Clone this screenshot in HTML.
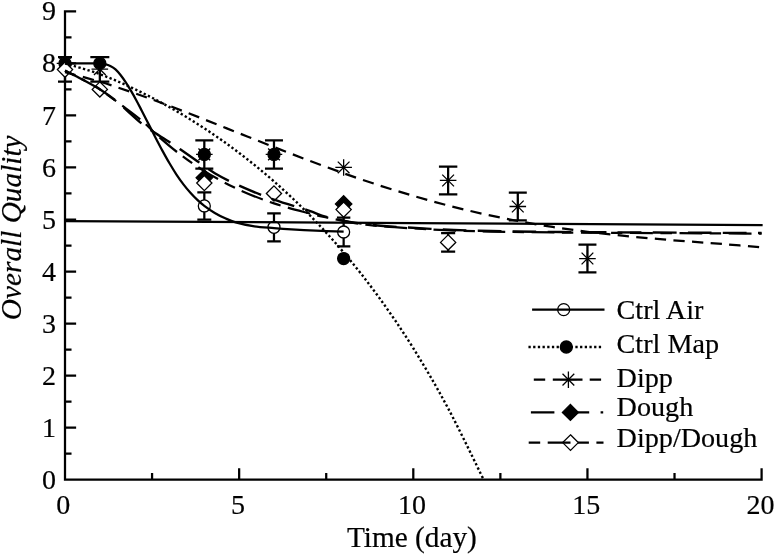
<!DOCTYPE html>
<html><head><meta charset="utf-8"><title>Overall Quality vs Time</title>
<style>
html,body{margin:0;padding:0;background:#fff;}
body{width:774px;height:555px;overflow:hidden;}
svg{display:block;will-change:transform;}
text{font-family:"Liberation Serif",serif;fill:#000;stroke:#000;stroke-width:0.2px;}
</style></head><body>
<svg width="774" height="555" viewBox="0 0 774 555">
<rect x="0" y="0" width="774" height="555" fill="#fff"/>

<path d="M65.00,11.25 V479.70 H761.60 M65.00,479.70 h10.00 M65.00,453.68 h5.40 M65.00,427.66 h10.00 M65.00,401.64 h5.40 M65.00,375.62 h10.00 M65.00,349.60 h5.40 M65.00,323.58 h10.00 M65.00,297.56 h5.40 M65.00,271.54 h10.00 M65.00,245.52 h5.40 M65.00,219.50 h10.00 M65.00,193.48 h5.40 M65.00,167.46 h10.00 M65.00,141.44 h5.40 M65.00,115.42 h10.00 M65.00,89.40 h5.40 M65.00,63.38 h10.00 M65.00,37.36 h5.40 M65.00,11.34 h10.00 M65.00,479.70 v-10.30 M152.07,479.70 v-5.60 M239.15,479.70 v-10.30 M326.22,479.70 v-5.60 M413.30,479.70 v-10.30 M500.38,479.70 v-5.60 M587.45,479.70 v-10.30 M674.52,479.70 v-5.60 M761.60,479.70 v-10.30" fill="none" stroke="#000" stroke-width="2.25" stroke-linecap="square"/>
<path d="M65.00,57.14 V81.59 M58.00,57.14 H72.00 M58.00,81.59 H72.00" fill="none" stroke="#000" stroke-width="2.25"/>
<path d="M99.83,57.14 V81.59 M90.33,57.14 H109.33 M90.33,81.59 H109.33" fill="none" stroke="#000" stroke-width="2.25"/>
<path d="M204.32,140.40 V168.50 M195.32,140.40 H213.32 M195.32,168.50 H213.32" fill="none" stroke="#000" stroke-width="2.25"/>
<path d="M273.98,140.40 V168.50 M264.98,140.40 H282.98 M264.98,168.50 H282.98" fill="none" stroke="#000" stroke-width="2.25"/>
<path d="M204.32,192.44 V219.50 M197.32,192.44 H211.32 M197.32,219.50 H211.32" fill="none" stroke="#000" stroke-width="2.25"/>
<path d="M273.98,213.26 V241.36 M267.18,213.26 H280.78 M267.18,241.36 H280.78" fill="none" stroke="#000" stroke-width="2.25"/>
<path d="M343.64,217.68 V246.30 M336.94,217.68 H350.34 M336.94,246.30 H350.34" fill="none" stroke="#000" stroke-width="2.25"/>
<path d="M448.13,166.68 V194.26 M438.93,166.68 H457.33 M438.93,194.26 H457.33" fill="none" stroke="#000" stroke-width="2.25"/>
<path d="M517.79,192.70 V220.28 M508.79,192.70 H526.79 M508.79,220.28 H526.79" fill="none" stroke="#000" stroke-width="2.25"/>
<path d="M587.45,244.74 V272.32 M578.45,244.74 H596.45 M578.45,272.32 H596.45" fill="none" stroke="#000" stroke-width="2.25"/>
<path d="M448.13,233.19 V251.61 M441.08,233.19 H455.18 M441.08,251.61 H455.18" fill="none" stroke="#000" stroke-width="2.25"/>
<path d="M56.70,63.38 L73.30,63.38 M59.13,57.51 L70.87,69.25 M65.00,55.08 L65.00,71.68 M70.87,57.51 L59.13,69.25" fill="none" stroke="#000" stroke-width="1.3"/>
<path d="M91.53,69.10 L108.13,69.10 M93.96,63.24 L105.70,74.97 M99.83,60.80 L99.83,77.40 M105.70,63.24 L93.96,74.97" fill="none" stroke="#000" stroke-width="1.3"/>
<path d="M196.02,154.45 L212.62,154.45 M198.45,148.58 L210.19,160.32 M204.32,146.15 L204.32,162.75 M210.19,148.58 L198.45,160.32" fill="none" stroke="#000" stroke-width="1.3"/>
<path d="M265.68,154.45 L282.28,154.45 M268.11,148.58 L279.85,160.32 M273.98,146.15 L273.98,162.75 M279.85,148.58 L268.11,160.32" fill="none" stroke="#000" stroke-width="1.3"/>
<path d="M335.34,167.46 L351.94,167.46 M337.77,161.59 L349.51,173.33 M343.64,159.16 L343.64,175.76 M349.51,161.59 L337.77,173.33" fill="none" stroke="#000" stroke-width="1.3"/>
<path d="M439.83,180.47 L456.43,180.47 M442.26,174.60 L454.00,186.34 M448.13,172.17 L448.13,188.77 M454.00,174.60 L442.26,186.34" fill="none" stroke="#000" stroke-width="1.3"/>
<path d="M509.49,206.49 L526.09,206.49 M511.92,200.62 L523.66,212.36 M517.79,198.19 L517.79,214.79 M523.66,200.62 L511.92,212.36" fill="none" stroke="#000" stroke-width="1.3"/>
<path d="M579.15,258.53 L595.75,258.53 M581.58,252.66 L593.32,264.40 M587.45,250.23 L587.45,266.83 M593.32,252.66 L581.58,264.40" fill="none" stroke="#000" stroke-width="1.3"/>
<path d="M204.32,169.67 L212.52,177.87 L204.32,186.07 L196.12,177.87 Z" fill="#000" stroke="#000" stroke-width="1.3"/>
<path d="M343.64,195.69 L351.84,203.89 L343.64,212.09 L335.44,203.89 Z" fill="#000" stroke="#000" stroke-width="1.3"/>
<circle cx="65.00" cy="63.38" r="6.0" fill="#000" stroke="#000" stroke-width="1.3"/>
<circle cx="99.83" cy="63.38" r="6.0" fill="#000" stroke="#000" stroke-width="1.3"/>
<circle cx="204.32" cy="154.45" r="6.0" fill="#000" stroke="#000" stroke-width="1.3"/>
<circle cx="273.98" cy="154.45" r="6.0" fill="#000" stroke="#000" stroke-width="1.3"/>
<circle cx="343.64" cy="258.53" r="6.0" fill="#000" stroke="#000" stroke-width="1.3"/>
<circle cx="204.32" cy="205.97" r="6.0" fill="#fff" stroke="#000" stroke-width="1.3"/>
<circle cx="273.98" cy="227.31" r="6.0" fill="#fff" stroke="#000" stroke-width="1.3"/>
<circle cx="343.64" cy="231.99" r="6.0" fill="#fff" stroke="#000" stroke-width="1.3"/>
<path d="M65.00,62.02 L72.60,69.62 L65.00,77.22 L57.40,69.62 Z" fill="#fff" stroke="#000" stroke-width="1.3"/>
<path d="M99.83,81.80 L107.43,89.40 L99.83,97.00 L92.23,89.40 Z" fill="#fff" stroke="#000" stroke-width="1.3"/>
<path d="M204.32,175.47 L211.92,183.07 L204.32,190.67 L196.72,183.07 Z" fill="#fff" stroke="#000" stroke-width="1.3"/>
<path d="M273.98,185.88 L281.58,193.48 L273.98,201.08 L266.38,193.48 Z" fill="#fff" stroke="#000" stroke-width="1.3"/>
<path d="M343.64,202.01 L351.24,209.61 L343.64,217.21 L336.04,209.61 Z" fill="#fff" stroke="#000" stroke-width="1.3"/>
<path d="M448.13,234.80 L455.73,242.40 L448.13,250.00 L440.53,242.40 Z" fill="#fff" stroke="#000" stroke-width="1.3"/>
<g fill="none" stroke="#000" stroke-width="2.25">
<path d="M65.00,221.06 C181.27,221.76 646.37,224.53 762.64,225.22"/>
<path d="M65.00,63.38 H99.83 L99.83,63.38 C100.70,63.51 103.31,63.73 105.05,64.16 C106.80,64.59 108.54,65.11 110.28,65.98 C112.02,66.86 113.76,67.86 115.50,69.42 C117.25,70.97 118.99,73.09 120.73,75.30 C122.47,77.50 124.21,79.99 125.95,82.63 C127.69,85.28 129.44,88.19 131.18,91.17 C132.92,94.14 134.66,97.28 136.40,100.48 C138.14,103.69 139.59,106.50 141.63,110.42 C143.66,114.34 146.27,119.47 148.59,124.01 C150.91,128.54 153.24,133.17 155.56,137.64 C157.88,142.12 160.20,146.58 162.52,150.86 C164.85,155.14 167.17,159.35 169.49,163.30 C171.81,167.24 174.13,171.03 176.46,174.54 C178.78,178.04 181.10,181.29 183.42,184.32 C185.74,187.35 188.07,190.11 190.39,192.70 C192.71,195.28 195.03,197.64 197.35,199.83 C199.68,202.01 201.42,203.63 204.32,205.81 C207.22,208.00 211.29,210.86 214.77,212.94 C218.25,215.02 221.73,216.73 225.22,218.30 C228.70,219.87 231.02,221.05 235.67,222.36 C240.31,223.67 246.70,225.22 253.08,226.16 C259.47,227.11 267.59,227.51 273.98,228.03 C280.37,228.55 284.43,228.86 291.39,229.28 C298.36,229.71 307.07,230.20 315.78,230.58 C324.48,230.97 339.00,231.41 343.64,231.57"/>
<path d="M65.00,63.38 C70.81,65.18 88.22,69.87 99.83,74.15 C111.44,78.44 123.05,83.59 134.66,89.09 C146.27,94.59 157.88,100.61 169.49,107.15 C181.10,113.69 192.71,120.69 204.32,128.33 C215.93,135.96 227.54,144.09 239.15,152.94 C250.76,161.79 262.37,171.18 273.98,181.41 C285.59,191.63 297.20,202.46 308.81,214.30 C320.42,226.14 332.03,238.70 343.64,252.44 C355.25,266.18 366.86,280.76 378.47,296.73 C390.08,312.69 401.69,329.64 413.30,348.25 C424.91,366.85 436.40,386.44 448.13,408.35 C459.86,430.26 477.74,467.81 483.66,479.70" stroke-width="2.4" stroke-dasharray="2.3 2.39"/>
<path d="M65.00,72.17 C70.81,73.77 88.22,78.25 99.83,81.75 C111.44,85.25 123.05,89.17 134.66,93.20 C146.27,97.22 157.88,101.53 169.49,105.90 C181.10,110.27 192.71,114.86 204.32,119.43 C215.93,123.99 227.54,128.66 239.15,133.27 C250.76,137.88 262.37,142.52 273.98,147.06 C285.59,151.60 297.20,156.12 308.81,160.49 C320.42,164.85 332.03,169.13 343.64,173.24 C355.25,177.34 366.86,181.33 378.47,185.10 C390.08,188.87 401.69,192.47 413.30,195.87 C424.91,199.27 436.52,202.50 448.13,205.50 C459.74,208.50 471.35,211.30 482.96,213.88 C494.57,216.46 506.18,218.83 517.79,221.01 C529.40,223.19 541.01,225.15 552.62,226.94 C564.23,228.74 575.84,230.32 587.45,231.78 C599.06,233.24 610.67,234.50 622.28,235.68 C633.89,236.87 645.50,237.90 657.11,238.91 C668.72,239.92 680.33,240.81 691.94,241.72 C703.55,242.63 715.16,243.44 726.77,244.38 C738.38,245.31 755.79,246.85 761.60,247.34" stroke-dasharray="11.3 7.36" stroke-dashoffset="0.2"/>
<path d="M65.00,70.67 C67.90,72.14 76.61,76.43 82.41,79.51 C88.22,82.59 94.02,85.41 99.83,89.14 C105.64,92.87 109.79,95.77 117.25,101.89 C124.70,108.00 135.65,118.98 144.59,125.83 C153.53,132.68 162.09,137.10 170.88,143.00 C179.68,148.90 190.04,156.18 197.35,161.22 C204.67,166.25 207.80,169.11 214.77,173.18 C221.73,177.26 229.28,181.25 239.15,185.67 C249.02,190.10 262.37,195.56 273.98,199.72 C285.59,203.89 299.87,207.75 308.81,210.65 C317.75,213.56 317.75,214.86 327.62,217.16 C337.49,219.46 350.84,222.49 368.02,224.44 C385.20,226.40 412.31,227.83 430.71,228.87 C449.12,229.91 456.95,230.17 478.43,230.69 C499.91,231.21 512.39,231.60 559.59,231.99 C606.78,232.38 727.93,232.86 761.60,233.03" stroke-width="2.4" stroke-dasharray="23.7 11.3" stroke-dashoffset="0.5"/>
<path d="M65.00,70.67 C67.90,72.14 76.61,76.39 82.41,79.51 C88.22,82.63 92.81,84.76 99.83,89.40 C106.85,94.04 117.48,102.06 124.56,107.35 C131.64,112.64 136.52,116.16 142.32,121.14 C148.13,126.13 153.53,132.07 159.39,137.28 C165.25,142.48 170.01,146.73 177.50,152.37 C184.99,158.01 194.05,164.86 204.32,171.10 C214.59,177.35 227.54,184.46 239.15,189.84 C250.76,195.21 262.37,199.46 273.98,203.37 C285.59,207.27 299.87,210.87 308.81,213.26 C317.75,215.64 317.75,215.73 327.62,217.68 C337.49,219.63 350.84,223.01 368.02,224.96 C385.20,226.92 412.31,228.35 430.71,229.39 C449.12,230.43 456.95,230.69 478.43,231.21 C499.91,231.73 512.39,232.12 559.59,232.51 C606.78,232.90 727.93,233.38 761.60,233.55" stroke-dasharray="11.4 7.5 22.8 7.5" stroke-dashoffset="1"/>
</g>
<text x="56.0" y="488.80" font-size="28" text-anchor="end">0</text>
<text x="56.0" y="436.76" font-size="28" text-anchor="end">1</text>
<text x="56.0" y="384.72" font-size="28" text-anchor="end">2</text>
<text x="56.0" y="332.68" font-size="28" text-anchor="end">3</text>
<text x="56.0" y="280.64" font-size="28" text-anchor="end">4</text>
<text x="56.0" y="228.60" font-size="28" text-anchor="end">5</text>
<text x="56.0" y="176.56" font-size="28" text-anchor="end">6</text>
<text x="56.0" y="124.52" font-size="28" text-anchor="end">7</text>
<text x="56.0" y="72.48" font-size="28" text-anchor="end">8</text>
<text x="56.0" y="19.54" font-size="28" text-anchor="end">9</text>
<text x="63.20" y="514.4" font-size="28" text-anchor="middle">0</text>
<text x="237.95" y="514.4" font-size="28" text-anchor="middle">5</text>
<text x="412.10" y="514.4" font-size="28" text-anchor="middle">10</text>
<text x="586.25" y="514.4" font-size="28" text-anchor="middle">15</text>
<text x="760.40" y="514.4" font-size="28" text-anchor="middle">20</text>
<text x="411.9" y="546.5" font-size="29.3" text-anchor="middle">Time (day)</text>
<text transform="translate(20.8,227.8) rotate(-90)" font-size="29.3" font-style="italic" text-anchor="middle">Overall Quality</text>
<text x="616.6" y="319.40" font-size="28.15">Ctrl Air</text>
<text x="616.6" y="353.00" font-size="28.15">Ctrl Map</text>
<text x="616.6" y="386.50" font-size="28.15">Dipp</text>
<text x="616.6" y="416.20" font-size="28.15">Dough</text>
<text x="616.6" y="447.20" font-size="28.15">Dipp/Dough</text>
<g fill="none" stroke="#000" stroke-width="2.25"><path d="M532.1,309.65 H604.5"/><path d="M528.45,347.0 H601.3" stroke-width="2.4" stroke-dasharray="2.3 2.39"/><path d="M533.8,379.7 H545.2 M552.8,379.7 H582.5 M589.7,379.7 H601.1"/><path d="M530.9,412.4 H554.4 M570,412.4 H589.2 M600.6,412.4 H603.2"/><path d="M528.7,442.6 H540.2 M547.7,442.6 H570.5 M578,442.6 H588.9 M596.4,442.6 H603.5"/></g>
<circle cx="563.7" cy="309.65" r="6.0" fill="none" stroke="#000" stroke-width="1.3"/>
<circle cx="566.3" cy="347.0" r="6.0" fill="#000" stroke="#000" stroke-width="1.3"/>
<path d="M560.10,379.70 L576.70,379.70 M562.53,373.83 L574.27,385.57 M568.40,371.40 L568.40,388.00 M574.27,373.83 L562.53,385.57" fill="none" stroke="#000" stroke-width="1.3"/>
<path d="M570.40,404.40 L578.40,412.40 L570.40,420.40 L562.40,412.40 Z" fill="#000" stroke="#000" stroke-width="1.3"/>
<path d="M570.50,434.80 L578.30,442.60 L570.50,450.40 L562.70,442.60 Z" fill="none" stroke="#000" stroke-width="1.3"/>
</svg></body></html>
